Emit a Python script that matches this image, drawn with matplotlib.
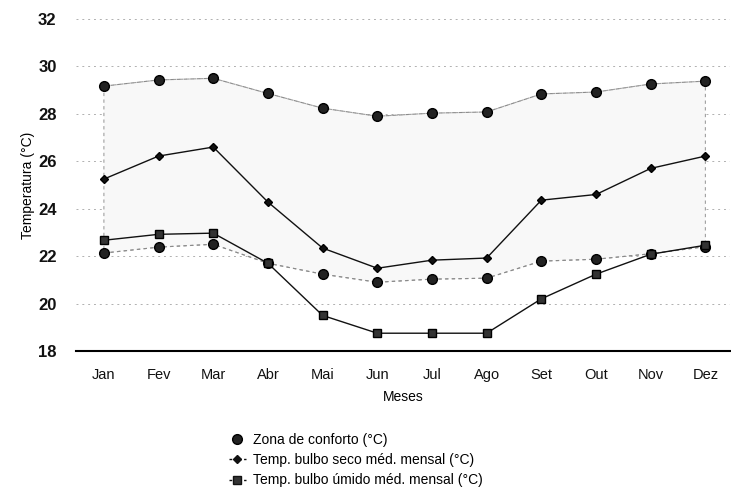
import matplotlib
matplotlib.use("Agg")
import matplotlib.pyplot as plt
from matplotlib.lines import Line2D

plt.rcParams['font.family'] = ['Liberation Sans', 'DejaVu Sans']

months = ['Jan', 'Fev', 'Mar', 'Abr', 'Mai', 'Jun', 'Jul', 'Ago', 'Set', 'Out', 'Nov', 'Dez']
comfort_upper = [29.17, 29.43, 29.5, 28.86, 28.24, 27.9, 28.03, 28.08, 28.84, 28.92, 29.26, 29.38]
comfort_lower = [22.13, 22.38, 22.5, 21.7, 21.24, 20.9, 21.03, 21.07, 21.79, 21.87, 22.1, 22.4]
dry_bulb = [25.25, 26.22, 26.6, 24.28, 22.34, 21.49, 21.83, 21.92, 24.36, 24.6, 25.7, 26.22]
wet_bulb = [22.67, 22.92, 22.97, 21.7, 19.5, 18.75, 18.75, 18.75, 20.2, 21.24, 22.08, 22.46]
y_ticks = [18, 20, 22, 24, 26, 28, 30, 32]

fig = plt.figure(figsize=(7.31, 4.96), dpi=100)
ax = fig.add_axes([76/731, 1-351/496, (730-76)/731, 332/496])
x = list(range(len(months)))

ax.fill_between(x, comfort_lower, comfort_upper, facecolor='#f8f8f8',
                edgecolor='#a0a0a0', linestyle=(0, (3, 3)), linewidth=0.8, zorder=1)
ax.plot(x, comfort_upper, color='#8a8a8a', linestyle=(0, (3, 3)), linewidth=0.8,
        marker='o', markersize=7, markerfacecolor='#222222', markeredgecolor='#000000', zorder=3)
ax.plot(x, comfort_lower, color='#8a8a8a', linestyle=(0, (3, 3)), linewidth=0.8,
        marker='o', markersize=7, markerfacecolor='#222222', markeredgecolor='#000000', zorder=3)
ax.plot(x, dry_bulb, color='#111111', linewidth=1.0, marker='D', markersize=4,
        markerfacecolor='#111111', markeredgecolor='#000000', zorder=4)
ax.plot(x, wet_bulb, color='#111111', linewidth=1.0, marker='s', markersize=6,
        markerfacecolor='#333333', markeredgecolor='#000000', zorder=4)

ax.set_xlim(-0.51, 11.45)
ax.set_ylim(18, 32)
ax.set_yticks(y_ticks)
ax.set_xticks(x)
ax.set_xticklabels(months)
ax.yaxis.grid(True, color='#b0b0b0', linestyle=(0, (2, 4)), linewidth=0.7)
ax.set_axisbelow(True)
for s in ['top', 'right', 'left']:
    ax.spines[s].set_visible(False)
ax.spines['bottom'].set_linewidth(1.5)
ax.spines['bottom'].set_color('#000000')
ax.tick_params(axis='x', length=0, labelsize=10.5, colors='#111111', pad=12)
ax.tick_params(axis='y', length=0, labelsize=12, colors='#111111', pad=14)
for lab in ax.get_yticklabels():
    lab.set_fontweight('bold')
ax.set_xlabel('Meses', fontsize=10, labelpad=6)
ax.set_ylabel('Temperatura (°C)', fontsize=10, labelpad=2)

handles = [
    Line2D([], [], linestyle='none', marker='o', markersize=7, markerfacecolor='#222222', markeredgecolor='#000000'),
    Line2D([], [], color='#111111', linestyle=(0, (2, 1.5)), linewidth=1, marker='D', markersize=4,
           markerfacecolor='#111111'),
    Line2D([], [], color='#111111', linestyle=(0, (2, 1.5)), linewidth=1, marker='s', markersize=6,
           markerfacecolor='#333333'),
]
labels = ['Zona de conforto (°C)', 'Temp. bulbo seco méd. mensal (°C)', 'Temp. bulbo úmido méd. mensal (°C)']
fig.legend(handles, labels, loc='upper left', bbox_to_anchor=(222/731, 1-426/496), frameon=False,
           fontsize=10, handlelength=1.2, handletextpad=0.5, labelspacing=0.45, borderpad=0)

fig.savefig('out.png', dpi=100)
